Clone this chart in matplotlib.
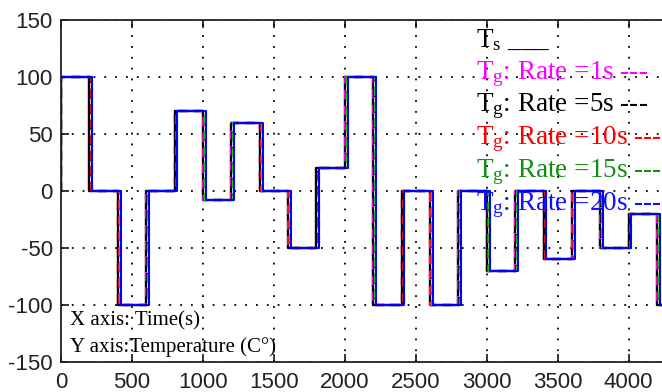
import matplotlib
matplotlib.use("Agg")
import matplotlib.pyplot as plt

plt.rcParams['mathtext.fontset'] = 'custom'
plt.rcParams['mathtext.rm'] = 'Liberation Serif'
plt.rcParams['axes.unicode_minus'] = False

# --- data ---
step_times = [0, 200, 400, 600, 800, 1000, 1200, 1400, 1600, 1800, 2000,
              2200, 2400, 2600, 2800, 3000, 3200, 3400, 3600, 3800, 4000, 4200]
setpoint = [100, 0, -100, 0, 70, -8, 60, 0, -50, 20, 100,
            -100, 0, -100, 0, -70, 0, -60, 0, -50, -20, -100]
initial_value = 0
end_time = 4300

rates = [1, 5, 10, 15, 20]          # seconds (legend)
rate_colors = ['#ff00ff', '#000000', '#ff0000', '#00dd00', '#0000ff']
text_colors = ['#ff00ff', '#000000', '#ff0000', '#109010', '#1010ff']

x_ticks = [0, 500, 1000, 1500, 2000, 2500, 3000, 3500, 4000]
y_ticks = [-150, -100, -50, 0, 50, 100, 150]


def series(lag):
    xs = [0, step_times[0]] + [t + lag for t in step_times[1:]] + [end_time]
    ys = [initial_value] + setpoint + [setpoint[-1]]
    return xs, ys


fig = plt.figure(figsize=(6.62, 3.92), dpi=100)
ax = fig.add_axes([61 / 662, 30 / 392, (662 - 61) / 662, 342 / 392])

ax.set_xlim(0, 4235)
ax.set_ylim(-150, 150)

# grid
ax.set_xticks(x_ticks)
ax.set_yticks(y_ticks)
ax.grid(True, color='black', linestyle=(0, (1.0, 5.0)), linewidth=1.3)

# Ts
xs, ys = series(0)
ax.plot(xs, ys, drawstyle='steps-post', color='black', lw=1.7, zorder=3)

# Tg series
for i, (r, c) in enumerate(zip(rates, rate_colors)):
    xs, ys = series(r)
    if i < len(rates) - 1:
        ax.plot(xs, ys, drawstyle='steps-post', color=c, lw=1.6,
                dashes=(4, 3), dash_capstyle='butt', zorder=4 + i)
    else:
        ax.plot(xs, ys, drawstyle='steps-post', color=c, lw=1.5, zorder=10)

ax.spines['right'].set_visible(False)
for s in ['left', 'top', 'bottom']:
    ax.spines[s].set_linewidth(1.3)
    ax.spines[s].set_color('#222222')

ax.tick_params(axis='both', direction='in', length=6, width=1.1,
               top=True, labelsize=16, colors='black')
ax.tick_params(axis='y', pad=6)
ax.tick_params(axis='x', pad=7)
for lab in ax.get_xticklabels() + ax.get_yticklabels():
    lab.set_family('Liberation Sans')
    lab.set_color('#222222')

# legend-like annotations
serif = 'Liberation Serif'
lx = 476 / 662
fig.text(lx, 1 - 40 / 392, r'T$\mathregular{_s}$ ___', family=serif,
         fontsize=19.5, color='black', va='center', ha='left', zorder=20)
ycent = [74, 106, 139, 172, 205]
for r, c, yc in zip(rates, text_colors, ycent):
    fig.text(lx, 1 - yc / 392, r'T$\mathregular{_g}$: Rate =%ds ---' % r,
             family=serif, fontsize=19.5, color=c, va='center', ha='left',
             zorder=20)

fig.text(70 / 662, 1 - 321 / 392, 'X axis: Time(s)', family=serif,
         fontsize=15, color='black', va='center', ha='left')
fig.text(70 / 662, 1 - 347 / 392, 'Y axis:Temperature (C°)', family=serif,
         fontsize=15, color='black', va='center', ha='left')

fig.savefig('out.png', dpi=100)
